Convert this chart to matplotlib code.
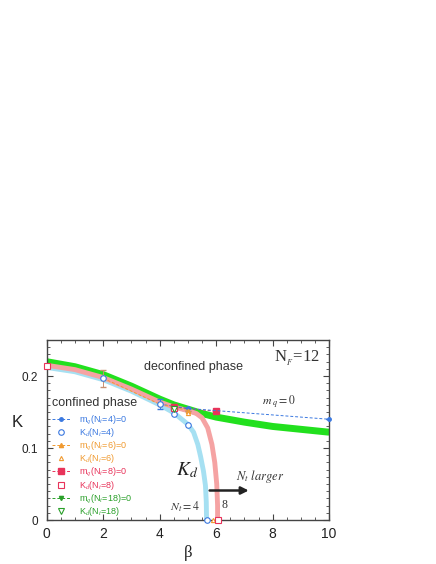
import matplotlib.pyplot as plt
from matplotlib.ticker import MultipleLocator

plt.rcParams['mathtext.fontset'] = 'stix'
plt.rcParams['font.family'] = ['Liberation Sans', 'DejaVu Sans']

# thick guide curves (beta, K)
beta_n18 = [0, 1, 2, 3, 4, 4.5, 5, 5.5, 6, 7, 8, 9, 10]
k_n18 = [0.220, 0.213, 0.202, 0.186, 0.168, 0.160, 0.154, 0.148, 0.143, 0.136, 0.130, 0.126, 0.122]

beta_n8 = [0, 1, 2, 3, 4, 4.5, 5, 5.3, 5.5, 5.7, 5.85, 5.95, 6.02, 6.05, 6.05]
k_n8 = [0.215, 0.209, 0.198, 0.182, 0.164, 0.157, 0.152, 0.148, 0.142, 0.128, 0.105, 0.080, 0.050, 0.020, 0.0]

beta_n4 = [0, 1, 2, 3, 4, 4.5, 5, 5.2, 5.35, 5.45, 5.55, 5.62, 5.65, 5.66]
k_n4 = [0.212, 0.206, 0.195, 0.179, 0.160, 0.149, 0.133, 0.122, 0.105, 0.088, 0.068, 0.048, 0.025, 0.0]

# m_q = 0 points
mq4_beta = [4, 5, 10]
mq4_k = [0.161, 0.155, 0.140]
mq4_err = [0.007, 0, 0]
mq6_beta = [2, 4, 4.5, 5]
mq6_k = [0.197, 0.161, 0.157, 0.152]
mq6_err = [0.012, 0, 0, 0]
mq8_beta = [4.5, 6]
mq8_k = [0.157, 0.151]
mq18_beta = [4.5]
mq18_k = [0.156]

# K_d points
kd4_beta = [2, 4, 4.5, 5, 5.67]
kd4_k = [0.197, 0.161, 0.147, 0.132, 0.0]
kd6_beta = [5, 5.9]
kd6_k = [0.148, 0.0]
kd8_beta = [0, 4.5, 6.05]
kd8_k = [0.214, 0.156, 0.0]
kd18_beta = [4.5]
kd18_k = [0.154]

blue = '#3a78e0'
orange = '#f09a30'
pink = '#e8335a'
green = '#2aa02a'

fig = plt.figure(figsize=(4.36, 5.64), dpi=100)
ax = fig.add_axes([0.107, 0.078, 0.648, 0.319])

ax.plot(beta_n18, k_n18, color='#22e01e', lw=5, solid_capstyle='butt', zorder=2)
ax.plot(beta_n8, k_n8, color='#f5a3a3', lw=3.5, solid_capstyle='butt', zorder=2)
ax.plot(beta_n4, k_n4, color='#a6e0f2', lw=3.5, solid_capstyle='butt', zorder=1)

dash = (0, (3, 2))
h1 = ax.errorbar(mq4_beta, mq4_k, yerr=mq4_err, color=blue, ls=dash, lw=0.7,
                 marker='o', ms=2.5, capsize=2, elinewidth=0.7, zorder=4)
h1.lines[0].set_clip_on(False)
h2, = ax.plot(kd4_beta, kd4_k, ls='none', marker='o', ms=4, mfc='white', mec=blue,
              mew=0.8, zorder=5, clip_on=False)
h3 = ax.errorbar(mq6_beta, mq6_k, yerr=mq6_err, color=orange, ls=dash, lw=0.7,
                 marker='^', ms=3, capsize=2, elinewidth=0.7, ecolor='#c89070', zorder=4)
h4, = ax.plot(kd6_beta, kd6_k, ls='none', marker='^', ms=3, mfc='white', mec=orange,
              mew=0.8, zorder=5, clip_on=False)
h5, = ax.plot(mq8_beta, mq8_k, color=pink, ls=dash, lw=0.7, marker='s', ms=5, zorder=4)
h6, = ax.plot(kd8_beta, kd8_k, ls='none', marker='s', ms=5, mfc='white', mec=pink,
              mew=0.8, zorder=5, clip_on=False)
h7, = ax.plot(mq18_beta, mq18_k, color=green, ls=dash, lw=0.7, marker='v', ms=3, zorder=4)
h8, = ax.plot(kd18_beta, kd18_k, ls='none', marker='v', ms=4, mfc='white', mec=green,
              mew=0.8, zorder=5)

handles = [h1.lines[0], h2, h3.lines[0], h4, h5, h6, h7, h8]
labels = [r'm$_q$(N$_t$=4)=0', r'K$_d$(N$_t$=4)', r'm$_q$(N$_t$=6)=0', r'K$_d$(N$_t$=6)',
          r'm$_q$(N$_t$=8)=0', r'K$_d$(N$_t$=8)', r'm$_q$(N$_t$=18)=0', r'K$_d$(N$_t$=18)']
leg = ax.legend(handles, labels, loc='upper left', bbox_to_anchor=(0.02, 0.595),
                fontsize=6.5, frameon=False, handlelength=2.0, labelspacing=0.03,
                handletextpad=1.0, borderaxespad=0, borderpad=0, handleheight=0.5)
for txt, c in zip(leg.get_texts(), [blue, blue, orange, orange, pink, pink, green, green]):
    txt.set_color(c)

ax.set_xlim(0, 10)
ax.set_ylim(0, 0.25)
ax.set_xticks([0, 2, 4, 6, 8, 10])
ax.set_yticks([0, 0.1, 0.2])
ax.set_yticklabels(['0', '0.1', '0.2'])
ax.xaxis.set_minor_locator(MultipleLocator(0.5))
ax.yaxis.set_minor_locator(MultipleLocator(0.01))
ax.tick_params(which='both', direction='in', top=True, right=True, color='#444444')
ax.tick_params(which='major', length=4, labelcolor='#222222')
ax.tick_params(axis='x', which='major', labelsize=10, pad=5)
ax.tick_params(axis='y', which='major', labelsize=8.5, pad=6)
ax.tick_params(which='minor', length=2)
for s in ax.spines.values():
    s.set_color('#444444')
    s.set_linewidth(1)

ax.set_xlabel('β', fontsize=12, family='Liberation Serif', labelpad=3, color='#222222')
ax.set_ylabel('K', fontsize=12, rotation=0, color='#222222')
ax.yaxis.set_label_coords(-0.105, 0.5)

ax.text(3.45, 0.213, 'deconfined phase', fontsize=9, va='center', color='#333333')
ax.text(0.18, 0.162, 'confined phase', fontsize=9, va='center', color='#333333')
ax.text(9.66, 0.225, r'N$_{_F}$=12', fontsize=12, family='Liberation Serif', ha='right',
        va='center', color='#333333')
ax.text(7.62, 0.164, r'$m_{\ q} = 0$', fontsize=8.5, va='center', color='#333333')
ax.text(4.57, 0.069, r'$K_d$', fontsize=14, va='center', color='#222222')
ax.text(4.37, 0.018, r'$N_t = 4$', fontsize=8.5, va='center', color='#333333')
ax.text(6.2, 0.021, '8', fontsize=8.5, family='Liberation Serif', va='center',
        color='#333333')
ax.text(6.71, 0.060, r'$N_t\ larger$', fontsize=9, va='center', color='#333333')
ax.annotate('', xy=(7.25, 0.041), xytext=(5.67, 0.041),
            arrowprops=dict(arrowstyle='-|>', color='#222222', lw=1.8, mutation_scale=11))

fig.savefig('out.png', dpi=100)
